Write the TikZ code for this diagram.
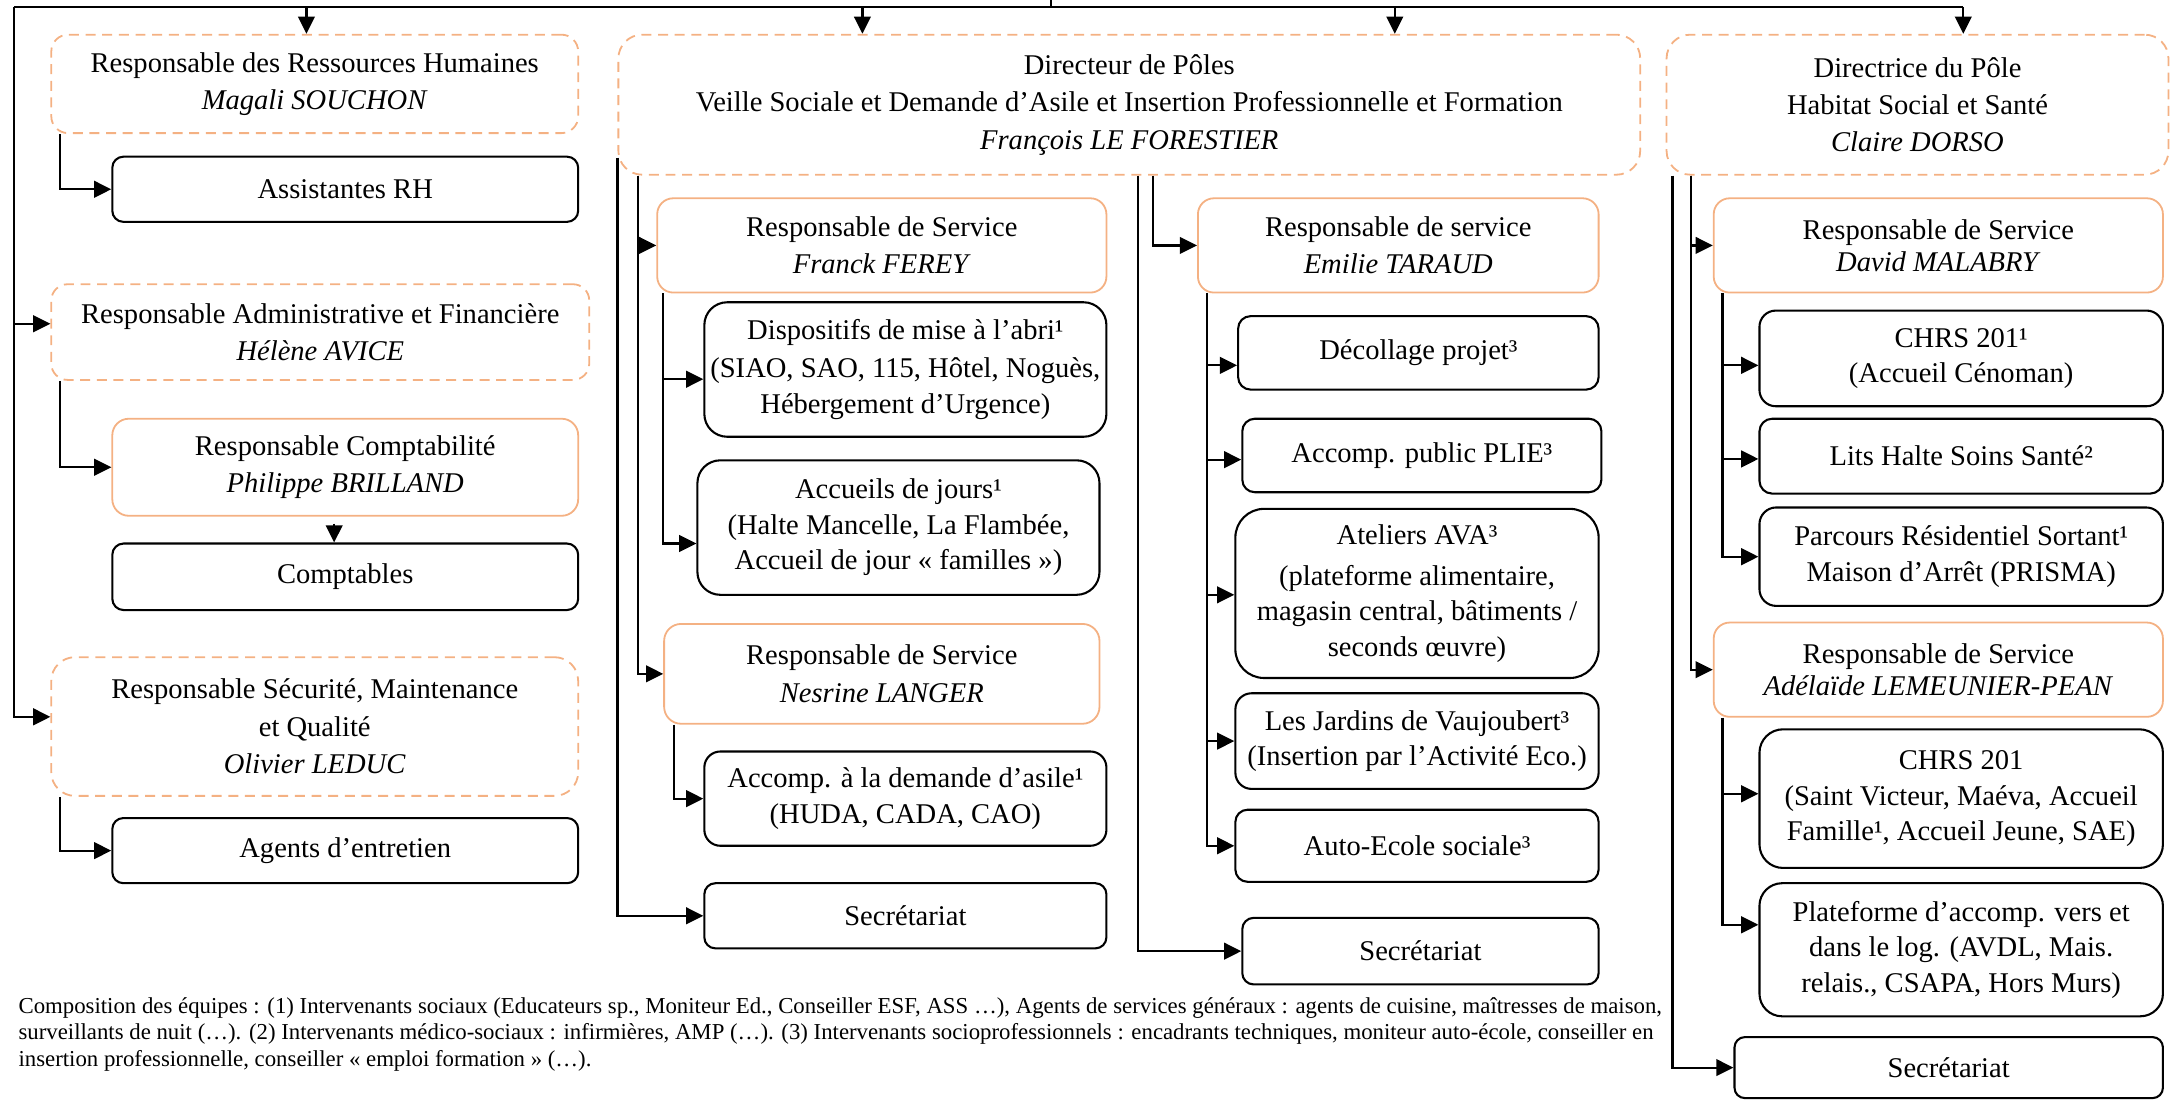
\documentclass[tikz,border=0pt]{standalone}
\usepackage{fontspec}
\setmainfont{Liberation Serif}
\usetikzlibrary{arrows.meta,calc}
\definecolor{org}{HTML}{F4B183}
\newcommand{\bx}[7]{%
  \pgfmathsetmacro{\bxcx}{(#3+#5)/2}%
  \pgfmathsetmacro{\bxcy}{(#4+#6)/2}%
  \pgfmathsetmacro{\bxw}{(#5-#3)*0.5}%
  \pgfmathsetmacro{\bxh}{(#6-#4)*0.5}%
  \pgfmathsetmacro{\bxr}{min(\bxw,\bxh)*0.17}%
  \node[#2, minimum width=\bxw pt, minimum height=\bxh pt, rounded corners=\bxr pt] (#1) at (\bxcx,\bxcy) {#7};}
\tikzset{
  base/.style={align=center, inner sep=0pt, font={\fontsize{10.3pt}{13.5pt}\selectfont}},
  dbox/.style={base, draw=org, dash pattern=on 3.6pt off 2.4pt, line width=0.65pt},
  obox/.style={base, draw=org, line width=0.65pt},
  otight/.style={obox, font={\fontsize{10.3pt}{11.5pt}\selectfont}},
  kbox/.style={base, draw=black, line width=0.75pt, font={\fontsize{10.3pt}{12.8pt}\selectfont}},
  line/.style={draw=black, line width=0.8pt},
  arr/.style={line, -{Triangle[length=6.2pt,width=6pt]}}
}
\begin{document}
\begin{tikzpicture}[x=0.5pt,y=-0.5pt]
\useasboundingbox (0,0) rectangle (1568,794);
% left column
\bx{rh}{dbox}{37}{25}{417}{96}{Responsable des Ressources Humaines\\\textit{Magali SOUCHON}}
\bx{ass}{kbox}{81}{113}{417}{160}{Assistantes RH}
\bx{adm}{dbox}{37}{205}{425}{274}{Responsable Administrative et Financière\\\textit{Hélène AVICE}}
\bx{compta}{obox}{81}{302}{417}{372}{Responsable Comptabilité\\\textit{Philippe BRILLAND}}
\bx{cpt}{kbox}{81}{392}{417}{440}{Comptables}
\bx{sec}{dbox}{37}{474}{417}{574}{Responsable Sécurité, Maintenance\\et Qualité\\\textit{Olivier LEDUC}}
\bx{agents}{kbox}{81}{590}{417}{637}{Agents d’entretien}
% middle column
\bx{dir}{dbox}{446}{25}{1183}{126}{Directeur de Pôles\\Veille Sociale et Demande d’Asile et Insertion Professionnelle et Formation\\\textit{François LE FORESTIER}}
\bx{ferey}{obox}{474}{143}{798}{211}{Responsable de Service\\\textit{Franck FEREY}}
\bx{disp}{kbox}{508}{218}{798}{315}{Dispositifs de mise à l’abri¹\\[1pt](SIAO, SAO, 115, Hôtel, Noguès,\\Hébergement d’Urgence)}
\bx{accj}{kbox}{503}{332}{793}{429}{Accueils de jours¹\\(Halte Mancelle, La Flambée,\\Accueil de jour « familles »)}
\bx{nes}{obox}{479}{450}{793}{522}{Responsable de Service\\\textit{Nesrine LANGER}}
\bx{asile}{kbox}{508}{542}{798}{610}{Accomp. à la demande d’asile¹\\(HUDA, CADA, CAO)}
\bx{sec1}{kbox}{508}{637}{798}{684}{Secrétariat}
\bx{emi}{obox}{864}{143}{1153}{211}{Responsable de service\\\textit{Emilie TARAUD}}
\bx{deco}{kbox}{893}{228}{1153}{281}{Décollage projet³}
\bx{plie}{kbox}{896}{302}{1155}{355}{Accomp. public PLIE³}
\bx{ava}{kbox}{891}{367}{1153}{489}{Ateliers AVA³\\[2pt](plateforme alimentaire,\\magasin central, bâtiments /\\seconds œuvre)}
\bx{jard}{kbox}{891}{500}{1153}{569}{Les Jardins de Vaujoubert³\\(Insertion par l’Activité Eco.)}
\bx{auto}{kbox}{891}{584}{1153}{636}{Auto-Ecole sociale³}
\bx{sec2}{kbox}{896}{662}{1153}{710}{Secrétariat}
% right column
\bx{dre}{dbox}{1202}{25}{1564}{126}{Directrice du Pôle\\Habitat Social et Santé\\\textit{Claire DORSO}}
\bx{mal}{otight}{1236}{143}{1560}{211}{Responsable de Service\\\textit{David MALABRY}}
\bx{chrs1}{kbox}{1269}{224}{1560}{293}{CHRS 201¹\\(Accueil Cénoman)}
\bx{lits}{kbox}{1269}{302}{1560}{356}{Lits Halte Soins Santé²}
\bx{parc}{kbox}{1269}{366}{1560}{437}{Parcours Résidentiel Sortant¹\\Maison d’Arrêt (PRISMA)}
\bx{ade}{otight}{1236}{449}{1560}{517}{Responsable de Service\\\textit{Adélaïde LEMEUNIER-PEAN}}
\bx{chrs2}{kbox}{1269}{526}{1560}{626}{CHRS 201\\(Saint Victeur, Maéva, Accueil\\Famille¹, Accueil Jeune, SAE)}
\bx{plat}{kbox}{1269}{637}{1560}{733}{Plateforme d’accomp. vers et\\dans le log. (AVDL, Mais.\\relais., CSAPA, Hors Murs)}
\bx{sec3}{kbox}{1251}{748}{1560}{792}{Secrétariat}
% footnote
\node[anchor=north west, align=left, inner sep=0pt, font={\fontsize{8.22pt}{9.5pt}\selectfont}] (foot) at (13,719) {Composition des équipes : (1) Intervenants sociaux (Educateurs sp., Moniteur Ed., Conseiller ESF, ASS …), Agents de services généraux : agents de cuisine, maîtresses de maison,\\surveillants de nuit (…). (2) Intervenants médico-sociaux : infirmières, AMP (…). (3) Intervenants socioprofessionnels : encadrants techniques, moniteur auto-école, conseiller en\\insertion professionnelle, conseiller « emploi formation » (…).};
% top bus
\coordinate (topin) at (758,0);
\coordinate (busL) at (10,5);
\coordinate (rhA) at ($(rh.north)+(-6,0)$);
\coordinate (dirA) at ($(dir.north)+(-192.5,0)$);
\coordinate (dirB) at ($(dir.north)+(191.5,0)$);
\coordinate (dreA) at ($(dre.north)+(33,0)$);
\draw[line] (topin) -- (topin |- busL);
\draw[line] (busL) -- (busL -| dreA);
\foreach \c in {rhA,dirA,dirB,dreA} \draw[arr] (busL -| \c) -- (\c);
% left trunk
\coordinate (admA) at ($(adm.west)+(0,-6)$);
\coordinate (secA) at ($(sec.west)+(0,-7)$);
\draw[arr] (busL) |- (secA);
\draw[arr] (busL |- admA) -- (admA);
\draw[arr] ($(rh.south west)+(7,0)$) |- (ass.west);
\draw[arr] ($(adm.south west)+(7,0)$) |- (compta.west);
\draw[arr] ($(compta.south)+(-8,5)$) -- ($(cpt.north)+(-8,0)$);
\draw[arr] ($(sec.south west)+(7,0)$) |- (agents.west);
% directeur
\draw[arr] ($(dir.south west)+(0,-13)$) |- (sec1.west);
\draw[arr] ($(dir.south west)+(15,0)$) |- (ferey.west);
\draw[arr] ($(dir.south west)+(15,0)$) |- (nes.west);
\coordinate (fT) at ($(ferey.south west)+(5,0)$);
\coordinate (dispA) at ($(disp.west)+(0,7)$);
\coordinate (accjA) at ($(accj.west)+(0,11.5)$);
\draw[arr] (fT) |- (accjA);
\draw[arr] (fT |- dispA) -- (dispA);
\draw[arr] ($(nes.south west)+(8,0)$) |- (asile.west);
\draw[arr] ($(dir.south)+(6.5,0)$) |- (sec2.west);
\draw[arr] ($(dir.south)+(17,0)$) |- (emi.west);
\coordinate (eT) at ($(emi.south west)+(7,0)$);
\coordinate (decoA) at ($(deco.west)+(0,9)$);
\coordinate (plieA) at ($(plie.west)+(0,3)$);
\coordinate (avaA) at ($(ava.west)+(0,1)$);
\draw[arr] (eT) |- (auto.west);
\foreach \c in {decoA,plieA,avaA,jard.west} \draw[arr] (eT |- \c) -- (\c);
% directrice
\draw[arr] ($(dre.south west)+(5,0)$) |- (sec3.west);
\draw[arr] ($(dre.south west)+(18,0)$) |- (mal.west);
\draw[arr] ($(dre.south west)+(18,0)$) |- (ade.west);
\coordinate (mT) at ($(mal.south west)+(7,0)$);
\coordinate (chrsA) at ($(chrs1.west)+(0,5)$);
\coordinate (litsA) at ($(lits.west)+(0,2)$);
\draw[arr] (mT) |- (parc.west);
\foreach \c in {chrsA,litsA} \draw[arr] (mT |- \c) -- (\c);
\coordinate (aT) at ($(ade.south west)+(7,0)$);
\coordinate (chrsB) at ($(chrs2.west)+(0,-3.5)$);
\coordinate (platA) at ($(plat.west)+(0,-18)$);
\draw[arr] (aT) |- (platA);
\draw[arr] (aT |- chrsB) -- (chrsB);
\end{tikzpicture}
\end{document}
